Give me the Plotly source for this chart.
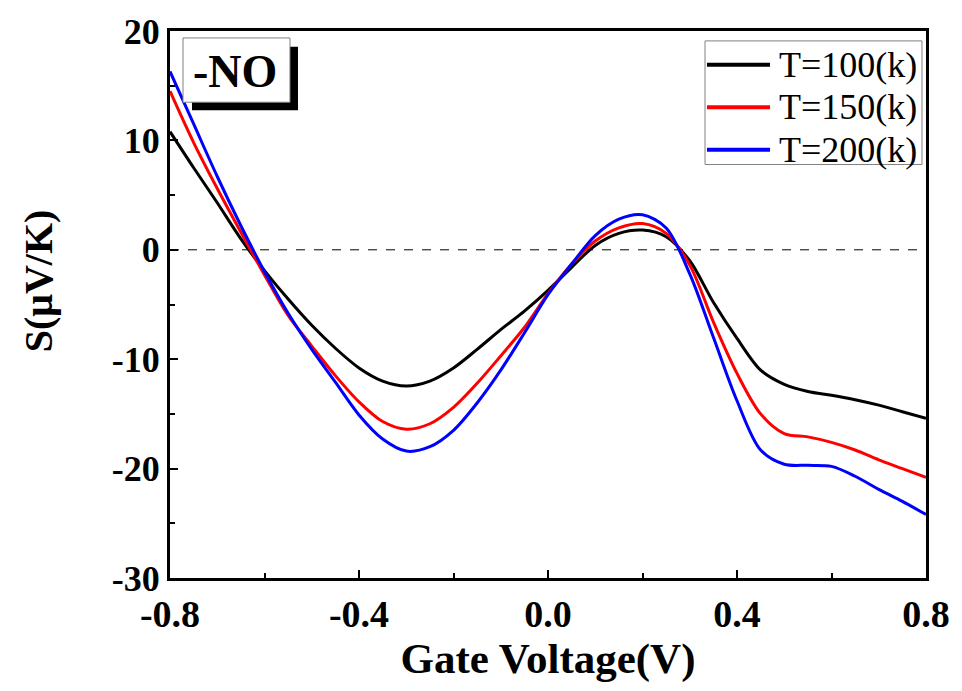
import plotly.graph_objects as go

gate_v = [-0.80, -0.75, -0.70, -0.65, -0.60, -0.55, -0.50, -0.45, -0.40, -0.35,
          -0.30, -0.25, -0.20, -0.15, -0.10, -0.05, 0.00, 0.05, 0.10, 0.15,
          0.20, 0.25, 0.30, 0.35, 0.40, 0.45, 0.50, 0.55, 0.60, 0.65,
          0.70, 0.75, 0.80]

s_100 = [10.8, 7.5, 4.3, 1.0, -1.9, -4.5, -6.9, -9.0, -10.8, -12.0,
         -12.45, -12.0, -10.8, -9.1, -7.3, -5.6, -3.7, -1.6, 0.4, 1.5,
         1.8, 1.2, -1.0, -4.8, -8.1, -11.0, -12.3, -12.95, -13.3, -13.7,
         -14.2, -14.8, -15.4]

s_150 = [14.5, 9.8, 5.6, 1.6, -2.3, -6.0, -8.8, -11.5, -13.9, -15.7,
         -16.4, -15.9, -14.4, -12.2, -9.7, -7.1, -4.0, -1.3, 0.8, 2.0,
         2.4, 1.5, -1.4, -6.6, -11.3, -15.0, -16.8, -17.1, -17.6, -18.3,
         -19.2, -20.0, -20.8]

s_200 = [16.3, 11.5, 6.7, 2.2, -2.0, -5.8, -9.1, -12.1, -15.1, -17.3,
         -18.4, -18.0, -16.5, -14.0, -11.0, -7.6, -4.1, -1.3, 1.3, 2.8,
         3.2, 2.0, -2.2, -8.0, -13.8, -18.3, -19.6, -19.7, -19.8, -20.7,
         -21.9, -23.0, -24.2]

series_names = ["T=100(k)", "T=150(k)", "T=200(k)"]
series_values = [s_100, s_150, s_200]
series_colors = ["#000000", "#ff0000", "#0000ff"]

x_ticks = [-0.8, -0.4, 0.0, 0.4, 0.8]
x_ticktext = ["-0.8", "-0.4", "0.0", "0.4", "0.8"]
y_ticks = [20, 10, 0, -10, -20, -30]
y_ticktext = ["20", "10", "0", "-10", "-20", "-30"]

SERIF = "Liberation Serif, Times New Roman, serif"

fig = go.Figure()
for name, ys, col in zip(series_names, series_values, series_colors):
    fig.add_trace(go.Scatter(x=gate_v, y=ys, mode="lines", name=name, showlegend=False,
                             line=dict(color=col, width=3, shape="spline", smoothing=0.9)))

# zero reference line
fig.add_shape(type="line", xref="paper", yref="y", x0=0, x1=1, y0=0, y1=0,
              line=dict(color="black", width=1, dash="dash"), layer="below")

# "-NO" label box with shadow
fig.add_shape(type="rect", xref="paper", yref="paper", x0=0.0291, x1=0.1693, y0=0.8553, y1=0.9711,
              fillcolor="black", line=dict(width=0), layer="above")
fig.add_shape(type="rect", xref="paper", yref="paper", x0=0.0172, x1=0.1587, y0=0.8698, y1=0.9873,
              fillcolor="white", line=dict(color="#808080", width=1), layer="above")
fig.add_annotation(x=0.0866, y=0.9259, xref="paper", yref="paper", text="<b>-NO</b>",
                   xanchor="center", yanchor="middle", showarrow=False,
                   font=dict(family=SERIF, size=46, color="black"))

# legend drawn manually (box, line samples, labels)
fig.add_shape(type="rect", xref="paper", yref="paper", x0=0.7077, x1=0.9947, y0=0.7559, y1=0.9819,
              fillcolor="white", line=dict(color="#808080", width=1), layer="above")
leg_y = [0.9385, 0.8608, 0.7830]
for name, col, ly in zip(series_names, series_colors, leg_y):
    fig.add_shape(type="line", xref="paper", yref="paper", x0=0.7103, x1=0.7937, y0=ly, y1=ly,
                  line=dict(color=col, width=4), layer="above")
    fig.add_annotation(x=0.8029, y=ly, xref="paper", yref="paper", text=name,
                       xanchor="left", yanchor="middle", showarrow=False,
                       font=dict(family=SERIF, size=36, color="black"))

# y-axis title as rotated annotation
fig.add_annotation(x=-0.1746, y=0.5425, xref="paper", yref="paper", text="<b>S(μV/K)</b>",
                   textangle=-90, xanchor="center", yanchor="middle", showarrow=False,
                   font=dict(family=SERIF, size=40, color="black"))

axis_common = dict(showline=True, linewidth=3, linecolor="black", mirror=True,
                   ticks="inside", tickwidth=2, ticklen=8, tickcolor="black",
                   showgrid=False, zeroline=False)

fig.update_xaxes(range=[-0.8, 0.8], tickvals=x_ticks, ticktext=x_ticktext,
                 minor=dict(ticks="inside", dtick=0.2, tick0=-0.8, ticklen=5, tickwidth=2, tickcolor="black"),
                 tickfont=dict(family=SERIF, size=38, color="black", weight="bold"),
                 ticklabelstandoff=0,
                 title=dict(text="Gate Voltage(V)", standoff=0,
                            font=dict(family=SERIF, size=43, color="black", weight="bold")),
                 **axis_common)
fig.update_yaxes(range=[-30, 20], tickvals=y_ticks, ticktext=y_ticktext,
                 minor=dict(ticks="inside", dtick=5, tick0=0, ticklen=5, tickwidth=2, tickcolor="black"),
                 tickfont=dict(family=SERIF, size=36, color="black", weight="bold"),
                 **axis_common)

fig.update_layout(
    width=962, height=691,
    margin=dict(l=170, r=36, t=25, b=113),
    plot_bgcolor="white", paper_bgcolor="white",
    showlegend=False,
)

fig.write_html("out.html")
